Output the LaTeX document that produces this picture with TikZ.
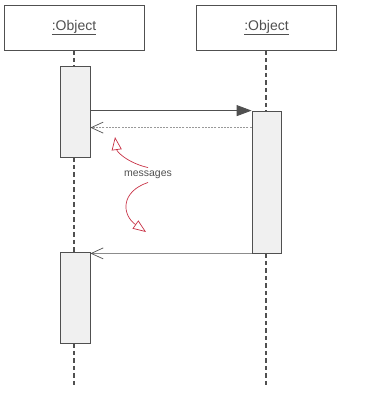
\documentclass[tikz,border=0pt]{standalone}
\usepackage{fontspec}
\setmainfont{Liberation Sans}
\usepackage{xcolor}
\usetikzlibrary{arrows.meta,positioning,calc}
\definecolor{linegray}{RGB}{80,80,80}
\definecolor{boxfill}{RGB}{240,240,240}
\definecolor{notered}{RGB}{200,50,70}
\tikzset{
	objbox/.style={draw=linegray,fill=white,line width=0.8pt,minimum width=140pt,minimum height=45pt,inner sep=0pt,font=\fontsize{14}{16}\selectfont,text=linegray},
	actbox/.style={draw=linegray,fill=boxfill,line width=0.8pt,minimum width=30pt,inner sep=0pt},
	lifeline/.style={draw=linegray,line width=1.2pt,dash pattern=on 4.5pt off 3pt},
	callmsg/.style={draw=linegray,line width=0.9pt,-{Triangle[length=15pt,width=11pt]}},
	backmsg/.style={draw=gray!80,line width=0.8pt,dash pattern=on 2pt off 1.2pt,-{Straight Barb[length=12pt,width=11pt,line width=0.7pt,color=linegray]}},
	replymsg/.style={draw=gray!90,line width=0.9pt,-{Straight Barb[length=12pt,width=11pt,line width=0.7pt,color=linegray]}},
	note/.style={draw=notered,line width=0.7pt,-{Triangle[open,length=13pt,width=10pt]}}
}
\begin{document}
\begin{tikzpicture}[x=1pt,y=-1pt]
	\useasboundingbox (0,0) rectangle (368,394);
	
	\node[objbox] (obj1) at (74,27.5) {\underline{:Object}};
	\node[objbox] (obj2) at (266.5,27.5) {\underline{:Object}};
	
	\node[actbox,minimum height=91pt] (act1) at (75,111.5) {};
	\node[actbox,minimum height=142pt,minimum width=29pt] (act2) at (266.5,182) {};
	\node[actbox,minimum height=91pt] (act3) at (75,297.5) {};
	
	\coordinate (end1) at (74,385);
	\coordinate (end2) at (266,385);
	
	% lifelines
	\draw[lifeline] (obj1.south -| 74,0) -- (act1.north -| 74,0);
	\draw[lifeline] (act1.south -| 74,0) -- (act3.north -| 74,0);
	\draw[lifeline] (act3.south -| 74,0) -- (end1);
	\draw[lifeline] (obj2.south -| 266,0) -- (act2.north -| 266,0);
	\draw[lifeline] (act2.south -| 266,0) -- (end2);
	
	% messages
	\draw[callmsg] (act1.east |- act2.north west) -- (act2.north west);
	\draw[backmsg] ($(act2.north west)+(0,17)$) -- ($(act1.east |- act2.north west)+(0,17)$);
	\draw[replymsg] (act2.south west) -- (act1.east |- act2.south west);
	
	\node[font=\fontsize{10.5}{12}\selectfont,text=linegray] (msg) at (148,175) {messages};
	\draw[note] (msg.north) .. controls (128,163) and (117,152) .. (115,137);
	\draw[note] (msg.south) .. controls (120,192) and (122,215) .. (146,232);
\end{tikzpicture}
\end{document}
